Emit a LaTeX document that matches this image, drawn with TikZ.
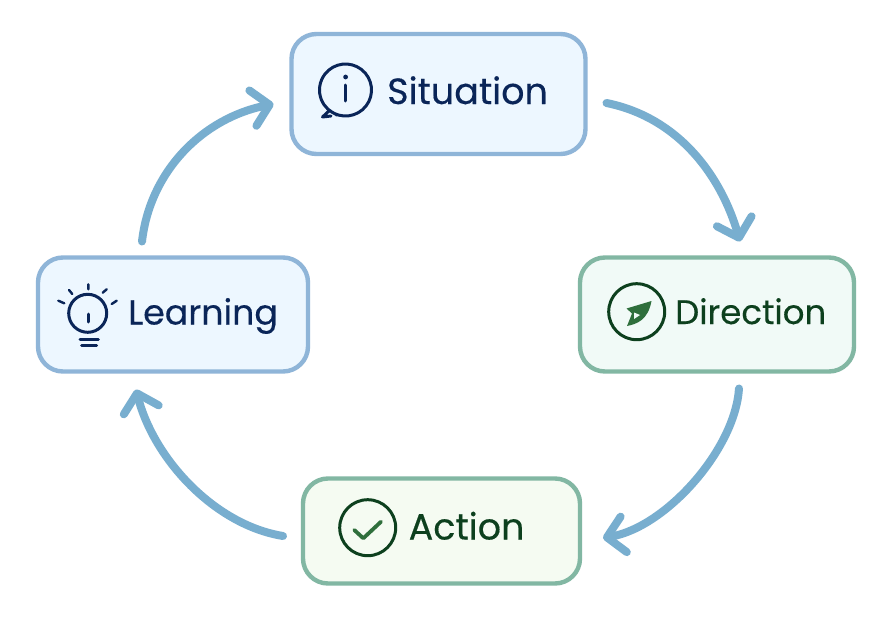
\documentclass[tikz,border=0pt]{standalone}
\usepackage{fontspec}
\setmainfont[FakeBold=0.3]{Poppins}
\usetikzlibrary{arrows.meta,calc}
\definecolor{navy}{HTML}{0A2558}
\definecolor{pine}{HTML}{0D401E}
\definecolor{leaf}{HTML}{2F6F3C}
\definecolor{bluefill}{HTML}{EDF7FF}
\definecolor{greenfillA}{HTML}{F1FAF7}
\definecolor{greenfillB}{HTML}{F5FBF2}
\definecolor{blueedge}{HTML}{8FB5D8}
\definecolor{greenedge}{HTML}{82B7A3}
\definecolor{flow}{HTML}{78AECF}
\tikzset{
  card/.style={draw,rounded corners=25pt,line width=4.4pt,inner sep=0pt,outer sep=0pt,anchor=north west},
  bluecard/.style={card,draw=blueedge,fill=bluefill},
  greencard/.style={card,draw=greenedge},
  cardtext/.style={anchor=base west,inner sep=0pt},
  navytext/.style={cardtext,text=navy},
  pinetext/.style={cardtext,text=pine},
  flowline/.style={draw=flow,line width=8pt,line cap=round,line join=round,
    -{Straight Barb[length=17pt,width=36pt,line width=8pt,round]}},
  navyicon/.style={draw=navy,line width=3pt,line cap=round,line join=round},
  pineicon/.style={draw=pine,line width=3pt,line cap=round,line join=round},
}
\begin{document}
\begin{tikzpicture}[x=1pt,y=-1pt]
\useasboundingbox[fill=white] (0,0) rectangle (888,618);
% cards
\node[bluecard,minimum width=294pt,minimum height=120pt] (situation) at (291.5,34) {};
\node[greencard,fill=greenfillA,minimum width=274pt,minimum height=114pt] (direction) at (580,257.5) {};
\node[greencard,fill=greenfillB,minimum width=277pt,minimum height=105pt] (action) at (303,478.5) {};
\node[bluecard,minimum width=270pt,minimum height=114pt] (learning) at (38,257.5) {};
% labels
\node[navytext,font=\fontsize{36.5}{40}\selectfont] (tsit) at (387,104) {Situation};
\node[pinetext,font=\fontsize{34}{40}\selectfont] (tdir) at (675,324) {Direction};
\node[pinetext,font=\fontsize{36.5}{40}\selectfont] (tact) at (408.5,539.5) {Action};
\node[navytext,font=\fontsize{34.8}{40}\selectfont] (tlea) at (128,324.5) {Learning};
% connectors
\draw[flowline] ([shift={(21,9)}]situation.east) .. controls +(74,15) and +(-18,-63) .. ([shift={(23,-16)}]direction.north);
\draw[flowline] ([shift={(22,17)}]direction.south) .. controls +(-4,61) and +(63,-11) .. ([shift={(23,7)}]action.east);
\draw[flowline] ([shift={(-20,5)}]action.west) .. controls +(-68,-11) and +(18,70) .. ([shift={(-37,18)}]learning.south);
\draw[flowline] ([shift={(-31,-16)}]learning.north) .. controls +(8,-71) and +(-70,14) .. ([shift={(-18,10)}]situation.west);
% situation icon
\draw[navyicon] (329.5,110.5) arc[start angle=128,end angle=-253,radius=26] -- (336,115) (329.5,110.5) -- (322.5,117) -- (331,116);
\fill[navy] (345.6,77) circle (2.4);
\draw[navyicon] (345.6,85) -- (345.6,101);
% direction icon
\draw[pineicon] (636.7,311.7) circle (28);
\fill[leaf] (651.5,301) -- (626.5,308.5) -- (632,313.5) -- (627,326) .. controls (637,324) and (648,320) .. cycle;
\fill[greenfillA] (634,312.5) -- (640,315) -- (634,319) -- cycle;
% action icon
\draw[pineicon] (367.7,527.7) circle (28);
\draw[draw=leaf,line width=3.8pt,line cap=round,line join=round] (354.3,530) -- (363.3,538.3) -- (381,521.7);
% learning icon
\draw[navyicon] (87.7,313.3) circle (19);
\draw[navyicon] (88,314) -- (88,322);
\draw[navyicon] (80,339.3) -- (98.3,339.3) (81.7,345.7) -- (96.7,345.7);
\draw[navyicon,line width=2.4pt] (88.3,284.3) -- (88.3,289.3) (69,290) -- (72.3,294) (106.7,289.3) -- (102.7,292.7) (58.3,300.7) -- (64.3,303.3) (116.7,300.7) -- (111.7,304);
\end{tikzpicture}
\end{document}
